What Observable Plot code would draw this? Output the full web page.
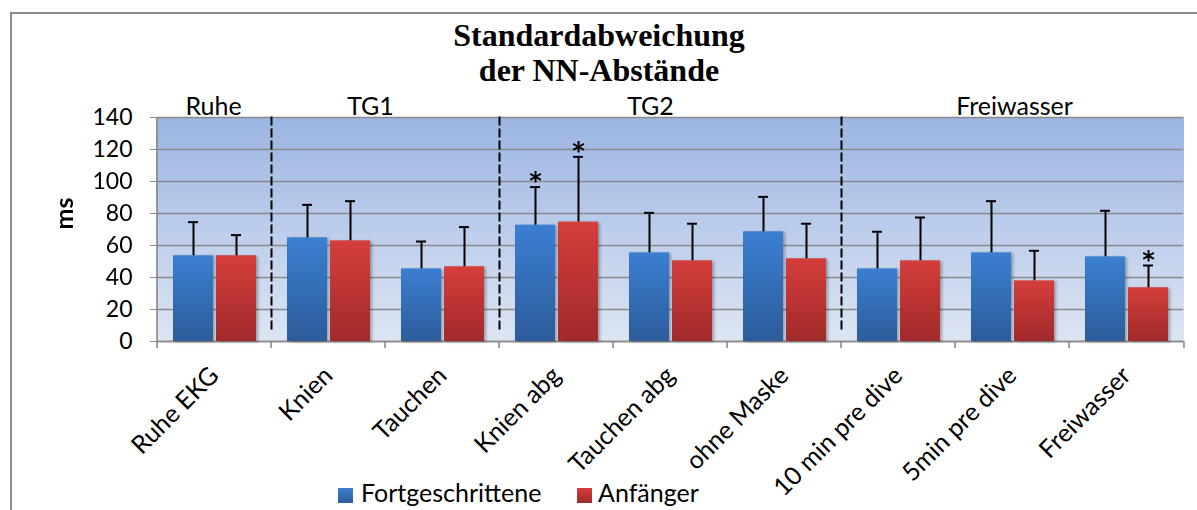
<!DOCTYPE html>
<html>
<head>
<meta charset="utf-8">
<script src="https://cdn.jsdelivr.net/npm/d3@7"></script>
<script src="https://cdn.jsdelivr.net/npm/@observablehq/plot@0.6"></script>
<style>
  html, body { margin: 0; padding: 0; background: #fff; }
  body { width: 1197px; height: 510px; overflow: hidden; position: relative; font-family: Lato, sans-serif; }
  #box { position: absolute; left: 10px; top: 12px; width: 1400px; height: 700px; border-top: 2px solid #8c8c8c; border-left: 2px solid #8c8c8c; }
  #title { position: absolute; left: 0; top: 18px; width: 1198px; text-align: center; font-family: "Liberation Serif", serif; font-weight: bold; font-size: 32px; line-height: 35px; color: #000; }
  #chart { position: absolute; left: 0; top: 88px; }
  .sw { position: absolute; width: 15px; height: 15px; top: 488px; }
  .lt { position: absolute; top: 477px; font-family: Lato, sans-serif; font-size: 25px; line-height: 30px; color: #000; white-space: nowrap; }
</style>
</head>
<body>
<div id="box"></div>
<div id="title">Standardabweichung<br>der NN-Abstände</div>
<div id="chart"></div>
<div class="sw" style="left:338px;background:linear-gradient(#3b7fd2,#2c5c9a)"></div>
<div class="lt" style="left:361px">Fortgeschrittene</div>
<div class="sw" style="left:577px;background:linear-gradient(#d43e3b,#a1292a)"></div>
<div class="lt" style="left:598px">Anfänger</div>
<script>
// ---- data ----
const categories = ["Ruhe EKG", "Knien", "Tauchen", "Knien abg", "Tauchen abg", "ohne Maske", "10 min pre dive", "5min pre dive", "Freiwasser"];
const series = ["Fortgeschrittene", "Anfänger"];
const fortMean = [53.6, 64.8, 45.4, 72.7, 55.4, 68.6, 45.4, 55.4, 52.9];
const fortSD   = [21.0, 20.6, 17.1, 23.8, 25.0, 21.8, 23.2, 32.3, 28.8];
const anfMean  = [53.6, 62.9, 46.7, 74.6, 50.4, 51.7, 50.4, 37.9, 33.6];
const anfSD    = [12.9, 24.8, 24.8, 40.8, 23.2, 21.9, 27.1, 18.8, 13.9];
const fortSig = ["Knien abg"];
const anfSig = ["Knien abg", "Freiwasser"];
const yTicks = [0, 20, 40, 60, 80, 100, 120, 140];
const groupNames = ["Ruhe", "TG1", "TG2", "Freiwasser"];
const groupCats = [["Ruhe EKG"], ["Knien", "Tauchen"], ["Knien abg", "Tauchen abg", "ohne Maske"], ["10 min pre dive", "5min pre dive", "Freiwasser"]];

// ---- table ----
const rows = categories.flatMap((c, i) => [
  {cat: c, series: series[0], mean: fortMean[i], sd: fortSD[i], sig: fortSig.includes(c)},
  {cat: c, series: series[1], mean: anfMean[i], sd: anfSD[i], sig: anfSig.includes(c)}
]);

const W = 1197, H = 422, mt = 29, mb = 169, ml = 153, mr = 10;
const step = (W - ml - mr) / categories.length;
const gridColor = "#8a8a8a";
const labelNudge = [-1, -15, -20, 2];
const yMin = yTicks[0], yMax = yTicks[yTicks.length - 1];

const groupLabelMarks = groupNames.map((name, gi) => {
  const cats = groupCats[gi];
  const n = cats.length;
  const odd = n % 2 === 1;
  const at = odd ? cats[(n - 1) / 2] : cats[n / 2 - 1];
  return Plot.text([name], {
    fx: () => at, frameAnchor: odd ? "top" : "top-right", textAnchor: "middle", text: d => d,
    lineAnchor: "bottom", dy: -3, dx: labelNudge[gi],
    fontSize: 25, fill: "black", fontFamily: "Lato"
  });
});

const separatorMarks = groupCats.slice(1).map(cats => Plot.frame({
  anchor: "left", fx: () => cats[0], stroke: "black", strokeWidth: 2,
  strokeDasharray: "7,5", insetBottom: 8
}));

const svg = Plot.plot({
  width: W, height: H,
  marginTop: mt, marginBottom: mb, marginLeft: ml, marginRight: mr,
  style: {fontFamily: "Lato, sans-serif", background: "transparent", color: "black", overflow: "visible"},
  fx: {domain: categories, padding: 0},
  x: {domain: series, paddingInner: 0.07, paddingOuter: 0.34, axis: null},
  y: {domain: [yMin, yMax]},
  marks: [
    // plot-area background: one rect per category band, slightly overlapping to avoid seams
    Plot.rect([0], {y1: () => yMin, y2: () => yMax, fill: "url(#bgGrad)", insetLeft: -1, insetRight: -1}),
    Plot.gridY(yTicks, {stroke: gridColor, strokeOpacity: 1, strokeWidth: 1.6}),
    Plot.ruleY([0], {stroke: gridColor, strokeWidth: 1.6}),
    // left axis line (at the left edge of the first category band)
    Plot.gridFx({ticks: [categories[0]], dx: -step / 2, stroke: gridColor, strokeOpacity: 1, strokeWidth: 1.6}),
    ...separatorMarks,
    Plot.barY(rows.filter(d => d.series === series[0]), {fx: "cat", x: "series", y: "mean", fill: "url(#blueGrad)"}),
    Plot.barY(rows.filter(d => d.series === series[1]), {fx: "cat", x: "series", y: "mean", fill: "url(#redGrad)"}),
    Plot.ruleX(rows, {fx: "cat", x: "series", y1: "mean", y2: d => d.mean + d.sd, stroke: "black", strokeWidth: 2}),
    Plot.tickY(rows, {fx: "cat", x: "series", y: d => d.mean + d.sd, stroke: "black", strokeWidth: 2, insetLeft: 15, insetRight: 15}),
    Plot.text(rows.filter(d => d.sig), {fx: "cat", x: "series", y: d => d.mean + d.sd, text: () => "*", lineAnchor: "bottom", dy: 2, fontSize: 24, fontWeight: "bold", fill: "black", fontFamily: "DejaVu Sans"}),
    Plot.axisY({ticks: yTicks, tickSize: 7, tickPadding: 18, fontSize: 23, stroke: gridColor, fill: "black", label: null, tickFormat: d => String(d)}),
    // boundary ticks below the category axis
    Plot.axisFx({anchor: "bottom", tickSize: 7, dx: -step / 2, tickFormat: () => "", stroke: gridColor, strokeWidth: 1.6, label: null}),
    Plot.axisFx({anchor: "bottom", ticks: [categories[categories.length - 1]], tickSize: 7, dx: step / 2, tickFormat: () => "", stroke: gridColor, strokeWidth: 1.6, label: null}),
    Plot.axisFx({anchor: "bottom", tickRotate: -45, tickSize: 0, tickPadding: 30, fontSize: 25, fill: "black", label: null}),
    Plot.text(["ms"], {fx: () => categories[0], frameAnchor: "left", dx: -93, rotate: -90, text: d => d, fontWeight: "bold", fontSize: 25, fill: "black"}),
    ...groupLabelMarks
  ]
});

const ns = "http://www.w3.org/2000/svg";
const defs = document.createElementNS(ns, "defs");
defs.innerHTML = `
  <linearGradient id="bgGrad" x1="0" y1="0" x2="0" y2="1">
    <stop offset="0" stop-color="#9bb5e2"/><stop offset="0.5" stop-color="#bccdeb"/><stop offset="1" stop-color="#dde5f3"/>
  </linearGradient>
  <linearGradient id="blueGrad" x1="0" y1="0" x2="0" y2="1">
    <stop offset="0" stop-color="#3b7fd2"/><stop offset="1" stop-color="#2c5c9a"/>
  </linearGradient>
  <linearGradient id="redGrad" x1="0" y1="0" x2="0" y2="1">
    <stop offset="0" stop-color="#d43e3b"/><stop offset="1" stop-color="#a1292a"/>
  </linearGradient>`;
svg.insertBefore(defs, svg.firstChild);
svg.querySelectorAll('g[aria-label="bar"]').forEach(g => { g.style.filter = "drop-shadow(2px 1px 1.5px rgba(0,0,0,0.3))"; });
document.getElementById("chart").appendChild(svg);
</script>
</body>
</html>
